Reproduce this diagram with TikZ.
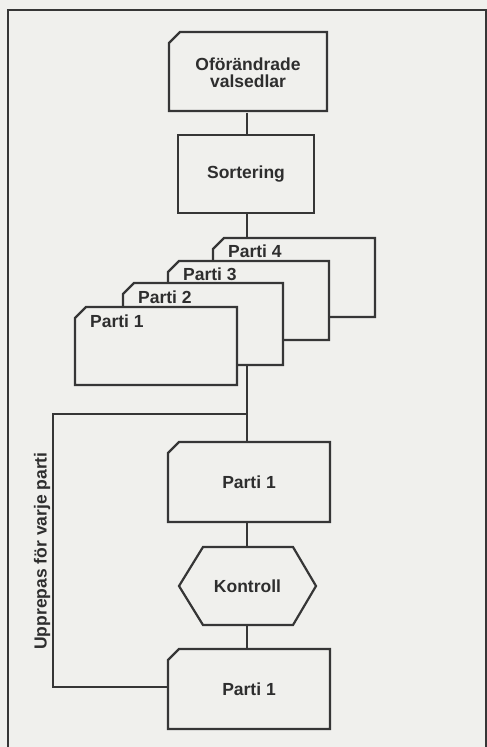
\documentclass[tikz,border=0pt]{standalone}
\usepackage{fontspec}
\setmainfont{Liberation Sans}
\definecolor{bg}{HTML}{F0F0ED}
\definecolor{lc}{HTML}{363636}
\definecolor{tc}{HTML}{2E2E2E}
\newcommand\chamfbox[4]{%
  \filldraw[outl] (#1,#2+11) -- (#1+11,#2) -- (#3,#2) -- (#3,#4) -- (#1,#4) -- cycle;}
\begin{document}
\begin{tikzpicture}[x=1pt,y=-1pt,
  outl/.style={draw=lc, fill=bg, line width=2.2pt, line join=miter},
  conn/.style={draw=lc, line width=2.2pt},
  frame/.style={draw=lc, line width=1.8pt},
  lbl/.style={text=tc, font=\fontsize{17.5}{17}\selectfont\bfseries, inner sep=0pt, align=center},
  area/.style={rectangle, draw=none, inner sep=0pt, text=tc, font=\fontsize{17.5}{17}\selectfont\bfseries, align=center}]
\useasboundingbox (0,0) rectangle (487,747);
\fill[bg] (0,0) rectangle (487,747);
\clip (0,0) rectangle (487,747);
% outer frame
\draw[frame] (8,760) -- (8,10) -- (486,10) -- (486,760);
\coordinate (spine) at (247,0);
% top box
\chamfbox{169}{32}{327}{111}
\node[area, minimum width=158, minimum height=79] (ofor) at (248,73) {Oförändrade\\valsedlar};
% sortering
\filldraw[outl] (178,135) rectangle (314,213);
\node[area, minimum width=136, minimum height=78] (sort) at (246,174) {Sortering};
% stacked cards
\chamfbox{213}{238}{375}{317}
\node[area, minimum width=162, minimum height=79] (p4) at (294,277.5) {};
\node[lbl, anchor=west] (p4t) at (228,251) {Parti 4};
\chamfbox{168}{261}{329}{340}
\node[area, minimum width=161, minimum height=79] (p3) at (248.5,300.5) {};
\node[lbl, anchor=west] (p3t) at (183,274) {Parti 3};
\chamfbox{123}{283}{283}{365}
\node[area, minimum width=160, minimum height=82] (p2) at (203,324) {};
\node[lbl, anchor=west] (p2t) at (138,297) {Parti 2};
\chamfbox{75}{307}{237}{385}
\node[area, minimum width=162, minimum height=78] (p1) at (156,346) {};
\node[lbl, anchor=west] (p1t) at (90,321) {Parti 1};
% middle box
\chamfbox{168}{442}{330}{522}
\node[area, minimum width=162, minimum height=80] (mid) at (249,482) {Parti 1};
% hexagon
\filldraw[outl] (179,586) -- (203,547) -- (293,547) -- (316,586) -- (293,625) -- (203,625) -- cycle;
\node[area, minimum width=137, minimum height=78] (hex) at (247.5,586) {Kontroll};
% bottom box
\chamfbox{168}{649}{330}{729}
\node[area, minimum width=162, minimum height=80] (bot) at (249,689) {Parti 1};
% connectors
\draw[conn] (ofor.south -| spine) -- (sort.north -| spine);
\draw[conn] (sort.south -| spine) -- (p4.north -| spine);
\draw[conn] (p2.south -| spine) -- (mid.north -| spine);
\draw[conn] (mid.south -| spine) -- (hex.north -| spine);
\draw[conn] (hex.south -| spine) -- (bot.north -| spine);
\coordinate (loopj) at (247,414);
\coordinate (loopa) at (53,414);
\coordinate (loopb) at (53,687);
\draw[conn, line join=miter] (loopj) -- (loopa) -- (loopb) -- (loopb -| bot.west);
\node[lbl, rotate=90] (rep) at (42,551) {Upprepas för varje parti};
\end{tikzpicture}
\end{document}
